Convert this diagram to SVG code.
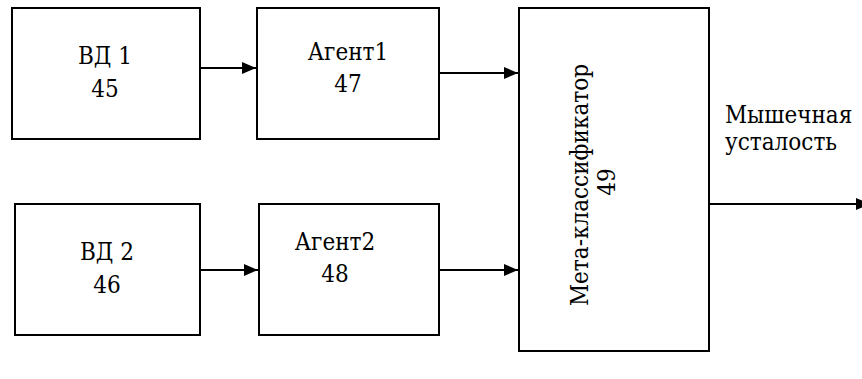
<svg xmlns="http://www.w3.org/2000/svg" width="862" height="379" viewBox="0 0 862 379">
  <style>
    .box { fill: #ffffff; stroke: #000000; stroke-width: 2; }
    .lbl { font-family: "DejaVu Serif Condensed", "DejaVu Serif", serif; font-size: 24px; fill: #000000; }
    .mid { text-anchor: middle; }
    .wire { stroke: #000000; stroke-width: 2; fill: none; marker-end: url(#arrow); }
  </style>
  <defs>
    <marker id="arrow" viewBox="0 0 14 12" refX="14" refY="6" markerWidth="14" markerHeight="12" markerUnits="userSpaceOnUse" orient="auto">
      <path d="M0,0 L14,6 L0,12 Z" fill="#000000"/>
    </marker>
  </defs>
  <rect width="862" height="379" fill="#ffffff"/>

  <g id="vd1">
    <rect class="box" x="12" y="8" width="188" height="131"/>
    <text class="lbl mid" x="105" y="64">ВД 1</text>
    <text class="lbl mid" x="105" y="97">45</text>
  </g>
  <g id="agent1">
    <rect class="box" x="257" y="8" width="182" height="131"/>
    <text class="lbl mid" x="348" y="60">Агент1</text>
    <text class="lbl mid" x="348" y="92">47</text>
  </g>
  <g id="vd2">
    <rect class="box" x="15" y="204" width="185" height="131"/>
    <text class="lbl mid" x="107" y="260">ВД 2</text>
    <text class="lbl mid" x="107" y="293">46</text>
  </g>
  <g id="agent2">
    <rect class="box" x="259" y="204" width="180" height="131"/>
    <text class="lbl mid" x="335" y="250">Агент2</text>
    <text class="lbl mid" x="335" y="282">48</text>
  </g>
  <g id="meta">
    <rect class="box" x="519" y="8" width="190" height="343"/>
    <text class="lbl mid" transform="translate(588,185) rotate(-90)">Мета-классификатор</text>
    <text class="lbl mid" transform="translate(615,182) rotate(-90)">49</text>
  </g>
  <g id="output-label">
    <text class="lbl" x="725" y="123">Мышечная</text>
    <text class="lbl" x="725" y="150">усталость</text>
  </g>

  <g id="connectors">
    <line class="wire" x1="200" y1="68" x2="256" y2="68"/>
    <line class="wire" x1="200" y1="270" x2="258" y2="270"/>
    <line class="wire" x1="439" y1="73" x2="518" y2="73"/>
    <line class="wire" x1="439" y1="270" x2="518" y2="270"/>
    <line class="wire" x1="709" y1="204" x2="870" y2="204"/>
  </g>
</svg>
